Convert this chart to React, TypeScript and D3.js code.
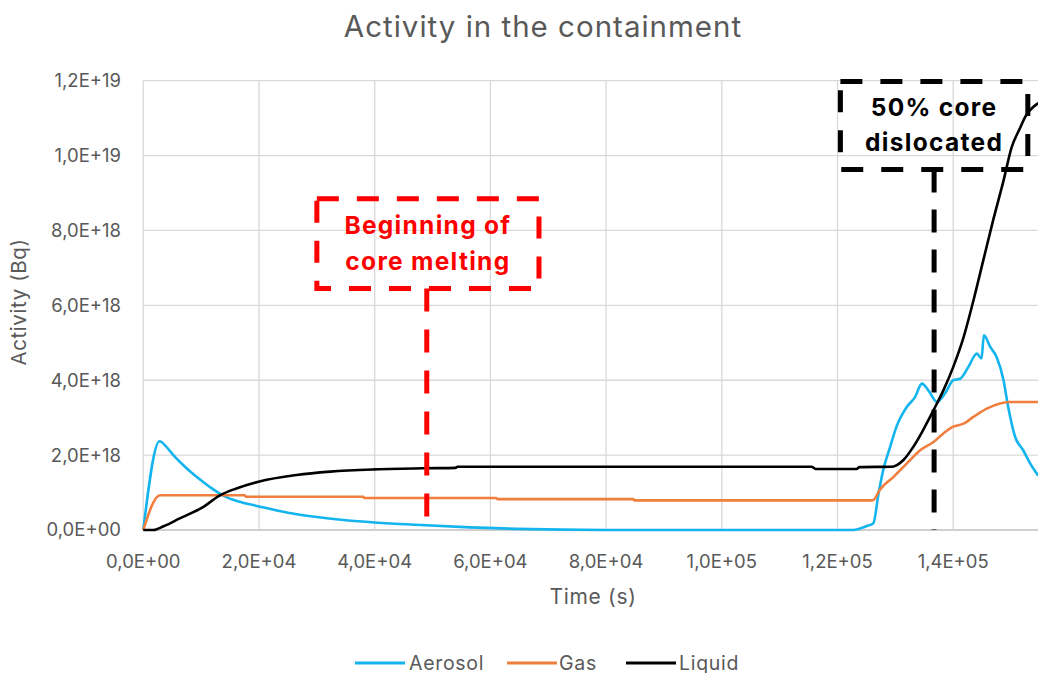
import React from "react";
import * as d3 from "d3";

const W = 1038;
const H = 673;

const title = "Activity in the containment";
const xTitle = "Time (s)";
const yTitle = "Activity (Bq)";

const xTicks = [0, 2e4, 4e4, 6e4, 8e4, 1e5, 1.2e5, 1.4e5];
const yTicks = [0, 2e18, 4e18, 6e18, 8e18, 1e19, 1.2e19];

const aerosolT = [0, 2800, 4000, 5200, 7200, 9200, 11500, 13800, 16500, 20000, 25000, 29300, 35000, 40000, 48400, 56500, 64500, 80000, 122700, 125000, 126200, 127100, 127900, 129100, 130200, 132000, 133400, 134600, 135700, 137200, 138600, 140000, 141200, 142600, 144100, 144900, 145300, 146400, 147500, 148700, 149500, 150700, 152100, 153300, 154700];
const aerosolV = [0, 2.37e18, 2.22e18, 2.0e18, 1.69e18, 1.42e18, 1.15e18, 0.92e18, 0.76e18, 0.63e18, 0.46e18, 0.36e18, 0.26e18, 0.2e18, 0.13e18, 0.07e18, 0.03e18, 0, 0, 0.1e18, 0.18e18, 0.98e18, 1.6e18, 2.22e18, 2.76e18, 3.29e18, 3.55e18, 3.91e18, 3.73e18, 3.42e18, 3.65e18, 4.0e18, 4.04e18, 4.35e18, 4.71e18, 4.58e18, 5.2e18, 4.89e18, 4.62e18, 4.0e18, 3.29e18, 2.49e18, 2.13e18, 1.78e18, 1.45e18];

const gasT = [0, 2900, 17500, 17700, 38000, 38200, 61000, 61200, 84700, 84900, 125900, 126200, 127300, 129700, 132000, 134300, 136600, 138300, 140000, 141800, 143500, 145800, 148100, 149800, 154700];
const gasV = [0, 0.93e18, 0.93e18, 0.89e18, 0.89e18, 0.855e18, 0.855e18, 0.825e18, 0.825e18, 0.79e18, 0.79e18, 0.8e18, 1.07e18, 1.42e18, 1.78e18, 2.13e18, 2.35e18, 2.58e18, 2.76e18, 2.84e18, 3.02e18, 3.24e18, 3.38e18, 3.42e18, 3.42e18];

const liquidT = [0, 1700, 3500, 6300, 10400, 13300, 16100, 19900, 26500, 32300, 40000, 48400, 54000, 54300, 115500, 116200, 123300, 123800, 129400, 131400, 133100, 134800, 136600, 138300, 140000, 141800, 143500, 145200, 146900, 148700, 150100, 151600, 152400, 154700];
const liquidV = [0, 0, 0.1e18, 0.31e18, 0.62e18, 0.93e18, 1.11e18, 1.29e18, 1.47e18, 1.56e18, 1.62e18, 1.65e18, 1.66e18, 1.69e18, 1.69e18, 1.63e18, 1.63e18, 1.68e18, 1.69e18, 1.87e18, 2.22e18, 2.67e18, 3.2e18, 3.73e18, 4.35e18, 5.15e18, 6.13e18, 7.2e18, 8.27e18, 9.33e18, 1.022e19, 1.075e19, 1.102e19, 1.14e19];

const seriesNames = ["Aerosol", "Gas", "Liquid"];
const seriesColors = ["#14B4EE", "#F07E3E", "#000000"];

// annotations (data coordinates)
const meltTime = 4.9e4;
const meltBox = { t0: 3.0e4, t1: 6.84e4, v0: 6.45e18, v1: 8.85e18 };
const meltText = ["Beginning of", "core melting"];
const disTime = 1.367e5;
const disBox = { t0: 1.205e5, t1: 1.529e5, v0: 9.63e18, v1: 1.198e19 };
const disText = ["50% core", "dislocated"];

const fmt = (v: number) => {
  const s = v.toExponential(1);
  const [m, e] = s.split("e");
  const sign = e[0] === "-" ? "-" : "+";
  const digits = e.replace(/^[+-]/, "").padStart(2, "0");
  return m.replace(".", ",") + "E" + sign + digits;
};

const FONT = "Inter, 'Noto Sans', sans-serif";

export default function App() {
  const left = 143.3;
  const right = 1038;
  const top = 80.7;
  const bottom = 530;
  const x = d3.scaleLinear().domain([0, 1.5466e5]).range([left, right]);
  const y = d3.scaleLinear().domain([0, 1.2e19]).range([bottom, top]);

  const line = d3
    .line<[number, number]>()
    .x((d) => x(d[0]))
    .y((d) => y(d[1]))
    .curve(d3.curveMonotoneX);

  const series = [
    d3.zip(aerosolT, aerosolV) as [number, number][],
    d3.zip(gasT, gasV) as [number, number][],
    d3.zip(liquidT, liquidV) as [number, number][],
  ];

  const gridColor = "#d9d9d9";
  const textColor = "#595959";

  const legendItems = [
    { lx: 355, tx: 409 },
    { lx: 507, tx: 559 },
    { lx: 626, tx: 679 },
  ];

  return (
    <svg
      width={W}
      height={H}
      style={{ position: "absolute", left: 0, top: 0, background: "#fff" }}
      fontFamily={FONT}
    >
      <defs>
        <clipPath id="plotclip">
          <rect x={left - 2} y={0} width={right - left + 2} height={bottom + 2} />
        </clipPath>
      </defs>
      <rect width={W} height={H} fill="#fff" />
      <text x={543} y={37} textAnchor="middle" fontSize={29.5} letterSpacing={1} fill={textColor}>
        {title}
      </text>

      {/* grid */}
      {yTicks.map((v) => (
        <line key={"gy" + v} x1={left} x2={right} y1={y(v)} y2={y(v)} stroke={v === 0 ? "#bfbfbf" : gridColor} strokeWidth={1.3} />
      ))}
      {xTicks.map((v) => (
        <line key={"gx" + v} x1={x(v)} x2={x(v)} y1={top} y2={bottom} stroke={gridColor} strokeWidth={1.3} />
      ))}

      {/* tick labels */}
      {yTicks.map((v) => (
        <text key={"ty" + v} x={121} y={y(v)} dy="0.35em" textAnchor="end" fontSize={18.5} fill={textColor}>
          {fmt(v)}
        </text>
      ))}
      {xTicks.map((v) => (
        <text key={"tx" + v} x={x(v)} y={568} textAnchor="middle" fontSize={18.5} fill={textColor}>
          {fmt(v)}
        </text>
      ))}
      <text x={593} y={604} textAnchor="middle" fontSize={21} letterSpacing={0.7} fill={textColor}>
        {xTitle}
      </text>
      <text transform={`translate(26,302) rotate(-90)`} textAnchor="middle" fontSize={20.5} letterSpacing={0.6} fill={textColor}>
        {yTitle}
      </text>

      {/* series */}
      <g clipPath="url(#plotclip)">
        {series.map((s, i) => (
          <path key={seriesNames[i]} d={line(s) || ""} fill="none" stroke={seriesColors[i]} strokeWidth={2.6} strokeLinejoin="round" />
        ))}
      </g>

      {/* annotations */}
      <rect
        x={x(meltBox.t0)}
        y={y(meltBox.v1)}
        width={x(meltBox.t1) - x(meltBox.t0)}
        height={y(meltBox.v0) - y(meltBox.v1)}
        fill="none"
        stroke="#FF0000"
        strokeWidth={5}
        strokeDasharray="22 18"
      />
      <line x1={x(meltTime)} x2={x(meltTime)} y1={y(meltBox.v0)} y2={525} stroke="#FF0000" strokeWidth={5} strokeDasharray="23 18" />
      {meltText.map((t, i) => (
        <text key={t} x={(x(meltBox.t0) + x(meltBox.t1)) / 2} y={234 + i * 36} textAnchor="middle" fontSize={24.5} letterSpacing={1.3} fontWeight={700} fill="#FF0000">
          {t}
        </text>
      ))}

      <g clipPath="url(#plotclip)">
        <rect
          x={x(disBox.t0)}
          y={y(disBox.v1)}
          width={x(disBox.t1) - x(disBox.t0)}
          height={y(disBox.v0) - y(disBox.v1)}
          fill="none"
          stroke="#000"
          strokeWidth={5}
          strokeDasharray="22 18"
        />
      </g>
      <line x1={x(disTime)} x2={x(disTime)} y1={y(disBox.v0)} y2={530} stroke="#000" strokeWidth={5} strokeDasharray="23 17" />
      {disText.map((t, i) => (
        <text key={t} x={(x(disBox.t0) + x(disBox.t1)) / 2} y={116 + i * 35} textAnchor="middle" fontSize={24.5} letterSpacing={1.3} fontWeight={700} fill="#000">
          {t}
        </text>
      ))}

      {/* legend */}
      {seriesNames.map((n, i) => (
        <g key={n}>
          <line x1={legendItems[i].lx} x2={legendItems[i].lx + 50} y1={663} y2={663} stroke={seriesColors[i]} strokeWidth={3} />
          <text x={legendItems[i].tx} y={669.5} fontSize={19.5} letterSpacing={0.7} fill={textColor}>
            {n}
          </text>
        </g>
      ))}
    </svg>
  );
}
